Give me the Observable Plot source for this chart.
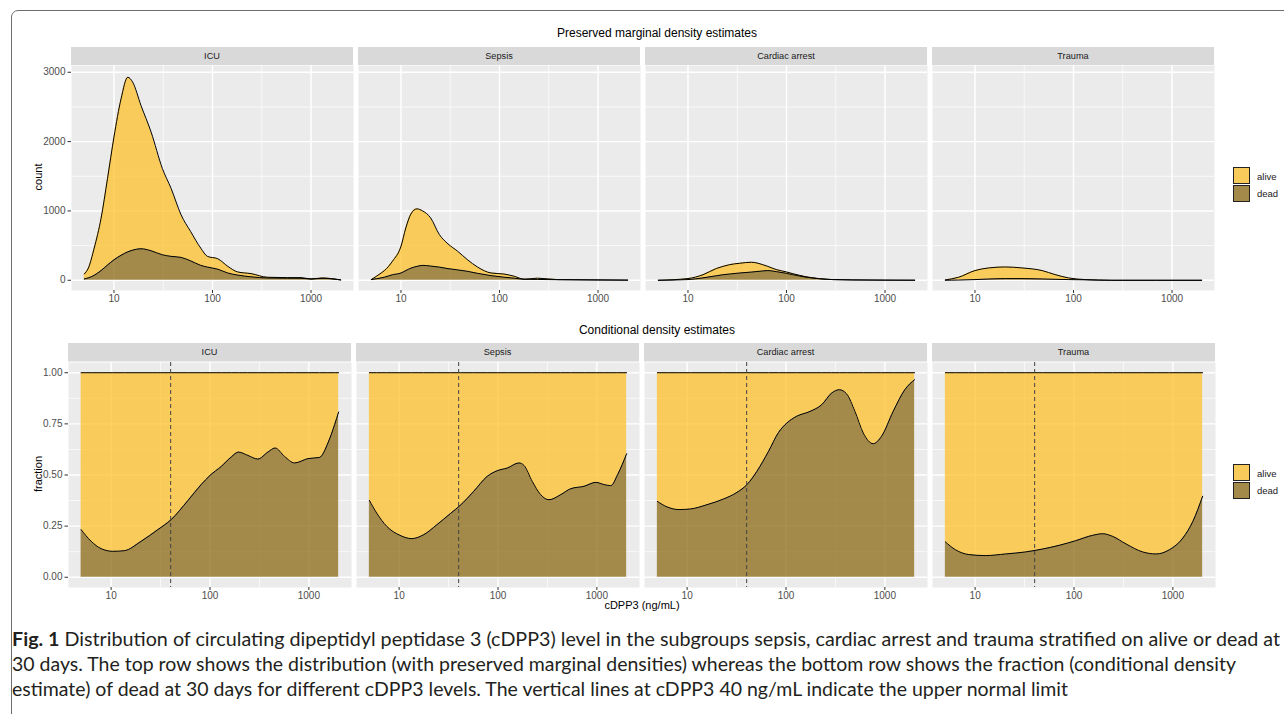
<!DOCTYPE html>
<html>
<head>
<meta charset="utf-8">
<script src="https://cdn.jsdelivr.net/npm/d3@7"></script>
<script src="https://cdn.jsdelivr.net/npm/@observablehq/plot@0.6"></script>
<style>
  html, body { margin: 0; padding: 0; background: #fff; }
  body { width: 1284px; height: 714px; overflow: hidden; position: relative; font-family: "Liberation Sans", Arial, sans-serif; }
  .abs { position: absolute; }
  #border { left: 11px; top: 10px; width: 1320px; height: 760px; border: 1.3px solid #6e6e6e; border-radius: 7px; box-sizing: border-box; }
  .title { font-size: 12px; color: #000; transform: translate(-50%, -50%); white-space: nowrap; }
  .ylab { font-size: 11px; color: #000; transform: translate(-50%, -50%) rotate(-90deg); white-space: nowrap; }
  .xlab { font-size: 11px; color: #000; transform: translate(-50%, -50%); white-space: nowrap; }
  .key { width: 17px; height: 17px; box-sizing: border-box; border: 0.8px solid #222; }
  .keylab { font-size: 9.5px; color: #1a1a1a; transform: translateY(-50%); }
  .cap { font-family: Lato, "Open Sans", sans-serif; font-size: 18.5px; color: #231f20; white-space: nowrap; display: inline-block; transform-origin: 0 50%; }
</style>
</head>
<body>
<div id="border" class="abs"></div>

<div class="abs title" style="left:657px;top:33px;">Preserved marginal density estimates</div>
<div class="abs title" style="left:657px;top:330px;">Conditional density estimates</div>
<div class="abs ylab" style="left:38px;top:177px;">count</div>
<div class="abs ylab" style="left:38px;top:474px;">fraction</div>
<div class="abs xlab" style="left:642px;top:605px;">cDPP3 (ng/mL)</div>

<div id="top" class="abs" style="left:0;top:47px;"></div>
<div id="bottom" class="abs" style="left:0;top:343px;"></div>
<div id="legends"></div>

<div class="abs" style="left:12px;top:628px;"><span class="cap" data-w="1268"><b>Fig. 1</b> Distribution of circulating dipeptidyl peptidase 3 (cDPP3) level in the subgroups sepsis, cardiac arrest and trauma stratified on alive or dead at</span></div>
<div class="abs" style="left:12px;top:653px;"><span class="cap" data-w="1224">30 days. The top row shows the distribution (with preserved marginal densities) whereas the bottom row shows the fraction (conditional density</span></div>
<div class="abs" style="left:12px;top:678px;"><span class="cap" data-w="1056">estimate) of dead at 30 days for different cDPP3 levels. The vertical lines at cDPP3 40 ng/mL indicate the upper normal limit</span></div>

<script>
// ---------- data ----------
const panels = ["ICU", "Sepsis", "Cardiac arrest", "Trauma"];
const outcomes = ["alive", "dead"];
const xTicks = [10, 100, 1000];
const countTicks = [0, 1000, 2000, 3000];
const fracTicks = [0, 0.25, 0.5, 0.75, 1];
const normalLimit = [40];

// Top row: stacked densities (count). total = alive + dead (upper curve), dead = lower curve
const icuX      = [5, 5.5, 6.3, 7.4, 8.6, 10, 11.8, 13.8, 15.5, 18.8, 23.8, 31, 38, 48, 60, 76, 89, 113, 143, 180, 246, 363, 580, 790, 1000, 1300, 2000];
const icuTotal  = [91, 177, 464, 895, 1469, 2067, 2617, 2928, 2856, 2521, 2139, 1612, 1325, 943, 703, 464, 344, 311, 201, 120, 96, 43, 38, 38, 19, 33, 5];
const icuDead   = [19, 35, 72, 140, 220, 295, 360, 410, 435, 455, 426, 368, 345, 330, 280, 215, 190, 160, 105, 75, 50, 33, 30, 29, 18, 28, 5];

const sepX      = [5, 6.3, 6.8, 8.2, 10, 11.2, 12.6, 14.5, 16.6, 20, 24.5, 30, 37.5, 47, 60, 82, 111, 141, 178, 243, 387, 1000, 2000];
const sepTotal  = [10, 105, 140, 275, 490, 755, 955, 1030, 1000, 900, 660, 525, 420, 300, 190, 105, 90, 58, 15, 30, 10, 5, 2];
const sepDead   = [10, 35, 45, 80, 105, 140, 175, 200, 215, 205, 190, 168, 150, 130, 100, 67, 45, 30, 15, 12, 8, 4, 2];

const carX      = [5, 10, 14.2, 19.4, 22.6, 26.4, 33.4, 43.9, 57.5, 64.7, 78.5, 100, 116, 135, 158, 185, 252, 295, 470, 1000, 2000];
const carTotal  = [0, 25, 80, 170, 200, 225, 245, 260, 225, 200, 155, 120, 95, 72, 50, 35, 15, 10, 5, 2, 1];
const carDead   = [0, 10, 35, 65, 80, 90, 105, 118, 135, 140, 125, 100, 80, 62, 45, 32, 15, 10, 5, 2, 1];

const trX       = [5, 6.8, 10, 13.8, 20.3, 30, 48, 65, 89, 132, 245, 2000];
const trTotal   = [5, 43, 140, 178, 192, 178, 140, 82, 34, 10, 0, 0];
const trDead    = [0, 3, 10, 18, 24, 24, 19, 14, 10, 6, 0, 0];

// Bottom row: conditional density = fraction dead
const icuFx   = [4.97, 6.28, 7.92, 10.4, 13.6, 20.1, 29.7, 40.5, 59.7, 81.4, 100, 130, 164, 194, 241, 305, 385, 456, 567, 716, 977, 1283, 1557, 1820, 2000];
const icuFrac = [0.233, 0.176, 0.14, 0.127, 0.13, 0.176, 0.233, 0.282, 0.375, 0.453, 0.498, 0.542, 0.588, 0.612, 0.596, 0.578, 0.612, 0.632, 0.591, 0.559, 0.58, 0.586, 0.656, 0.746, 0.808];

const sepFx   = [5, 5.93, 7.5, 10.2, 13.4, 17.7, 24.1, 32.9, 41.6, 56.8, 77.6, 98.2, 124, 163, 183, 222, 270, 328, 431, 544, 743, 977, 1186, 1386, 1621, 2000];
const sepFrac = [0.376, 0.314, 0.249, 0.205, 0.189, 0.208, 0.257, 0.311, 0.352, 0.42, 0.493, 0.521, 0.534, 0.559, 0.547, 0.469, 0.404, 0.379, 0.404, 0.433, 0.445, 0.464, 0.453, 0.448, 0.502, 0.604];

const carFx   = [5, 6.28, 8.24, 10.8, 15.9, 23.4, 31.9, 40.3, 50.8, 66.6, 84, 102, 128, 175, 230, 290, 346, 410, 498, 605, 763, 925, 1213, 1591, 2000];
const carFrac = [0.371, 0.344, 0.331, 0.334, 0.355, 0.383, 0.415, 0.453, 0.518, 0.616, 0.708, 0.754, 0.787, 0.811, 0.844, 0.901, 0.917, 0.897, 0.811, 0.705, 0.653, 0.689, 0.811, 0.917, 0.966];

const trFx    = [5, 6.31, 8.63, 12.7, 20.3, 32.4, 47.9, 70.6, 104, 154, 195, 246, 336, 495, 677, 925, 1262, 1595, 2000];
const trFrac  = [0.173, 0.135, 0.111, 0.106, 0.114, 0.124, 0.138, 0.156, 0.179, 0.205, 0.213, 0.2, 0.163, 0.124, 0.114, 0.135, 0.192, 0.274, 0.396];

// ---------- tables ----------
const topData = [
  ["ICU", icuX, icuTotal, icuDead], ["Sepsis", sepX, sepTotal, sepDead],
  ["Cardiac arrest", carX, carTotal, carDead], ["Trauma", trX, trTotal, trDead]
].flatMap(([panel, xs, tot, dead]) => xs.map((x, i) => ({panel, x, total: tot[i], dead: dead[i]})));

const botData = [
  ["ICU", icuFx, icuFrac], ["Sepsis", sepFx, sepFrac],
  ["Cardiac arrest", carFx, carFrac], ["Trauma", trFx, trFrac]
].flatMap(([panel, xs, fr]) => xs.map((x, i) => ({panel, x, frac: fr[i]})));

// ---------- styles ----------
const aliveFill = "#FEC02A", deadFill = "#8B6A16", fillOp = 0.75;
const aliveKey = "#F9CB5B", deadKey = "#A38A4B";
const bg = "#EBEBEB";
const lx = Math.log10(5), hx = Math.log10(2000), ex = (hx - lx) * 0.05;
const xDomain = [Math.pow(10, lx - ex), Math.pow(10, hx + ex)];
const fontStyle = {fontFamily: "'Liberation Sans', Arial, sans-serif", fontSize: "10px", background: "transparent", overflow: "visible"};
const curve = "monotone-x";

function commonMarks(yMajor, yMinor) {
  return [
    Plot.frame({fill: bg, stroke: null}),
    Plot.gridX([31.6228, 316.228], {stroke: "white", strokeOpacity: 1, strokeWidth: 0.7}),
    Plot.gridY(yMinor, {stroke: "white", strokeOpacity: 1, strokeWidth: 0.7}),
    Plot.gridX(xTicks, {stroke: "white", strokeOpacity: 1, strokeWidth: 1.4}),
    Plot.gridY(yMajor, {stroke: "white", strokeOpacity: 1, strokeWidth: 1.4}),
  ];
}
function axes(yMajor, yFmt) {
  return [
    Plot.axisX(xTicks, {tickFormat: d => String(d), tickSize: 3, tickPadding: 1.5, label: null, fill: "#4D4D4D", stroke: "#333"}),
    Plot.axisY(yMajor, {tickFormat: yFmt, tickSize: 3.5, tickPadding: 2.5, label: null, fill: "#4D4D4D", stroke: "#333"})
  ];
}

function addStrips(svgNode, h) {
  const svg = d3.select(svgNode);
  const fx = svgNode.scale("fx");
  const g = svg.append("g");
  panels.forEach(p => {
    const x0 = fx.apply(p), bw = fx.bandwidth;
    g.append("rect").attr("x", x0).attr("y", 0).attr("width", bw).attr("height", h).attr("fill", "#D9D9D9");
    g.append("text").attr("x", x0 + bw / 2).attr("y", h / 2).attr("dy", "0.35em")
      .attr("text-anchor", "middle").attr("fill", "#1A1A1A").attr("font-size", "9.2px").text(p);
  });
}

// ---------- top row ----------
const topPlot = Plot.plot({
  width: 1284, height: 263,
  marginLeft: 70, marginRight: 68, marginTop: 18, marginBottom: 20,
  style: fontStyle,
  fx: {domain: panels, paddingInner: 0.0165, paddingOuter: 0, axis: null, label: null},
  x: {type: "log", domain: xDomain},
  y: {domain: [-147.5, 3097.5]},
  marks: [
    ...commonMarks(countTicks, [500, 1500, 2500]),
    Plot.areaY(topData, {fx: "panel", x: "x", y1: d => 0, y2: "dead", fill: deadFill, fillOpacity: fillOp, curve}),
    Plot.areaY(topData, {fx: "panel", x: "x", y1: "dead", y2: "total", fill: aliveFill, fillOpacity: fillOp, curve}),
    Plot.line(topData, {fx: "panel", x: "x", y: "dead", stroke: "black", strokeWidth: 1, curve}),
    Plot.line(topData, {fx: "panel", x: "x", y: "total", stroke: "black", strokeWidth: 1, curve}),
    ...axes(countTicks, d => String(d))
  ]
});
document.getElementById("top").appendChild(topPlot);
addStrips(topPlot, 18);

// ---------- bottom row ----------
const botPlot = Plot.plot({
  width: 1284, height: 262,
  marginLeft: 67.5, marginRight: 68, marginTop: 19, marginBottom: 18,
  style: fontStyle,
  fx: {domain: panels, paddingInner: 0.0165, paddingOuter: 0, axis: null, label: null},
  x: {type: "log", domain: xDomain},
  y: {domain: [-0.05, 1.05]},
  marks: [
    ...commonMarks(fracTicks, [0.125, 0.375, 0.625, 0.875]),
    Plot.areaY(botData, {fx: "panel", x: "x", y1: d => 0, y2: "frac", fill: deadFill, fillOpacity: fillOp, curve}),
    Plot.areaY(botData, {fx: "panel", x: "x", y1: "frac", y2: d => 1, fill: aliveFill, fillOpacity: fillOp, curve}),
    Plot.line(botData, {fx: "panel", x: "x", y: d => 1, stroke: "black", strokeWidth: 1}),
    Plot.line(botData, {fx: "panel", x: "x", y: "frac", stroke: "black", strokeWidth: 1, curve}),
    Plot.ruleX(normalLimit, {stroke: "#444", strokeWidth: 1, strokeDasharray: "4,3"}),
    ...axes(fracTicks, d3.format(".2f"))
  ]
});
document.getElementById("bottom").appendChild(botPlot);
addStrips(botPlot, 18.5);

// ---------- legends ----------
const legendTops = [167, 464];
const keyFills = {alive: aliveKey, dead: deadKey};
const lg = document.getElementById("legends");
legendTops.forEach(t => {
  outcomes.forEach((o, i) => {
    const k = document.createElement("div");
    k.className = "abs key";
    k.style.left = "1233px"; k.style.top = (t + i * 17.5) + "px"; k.style.background = keyFills[o];
    lg.appendChild(k);
    const l = document.createElement("div");
    l.className = "abs keylab";
    l.style.left = "1257px"; l.style.top = (t + i * 17.5 + 8.5) + "px";
    l.textContent = o;
    lg.appendChild(l);
  });
});

// ---------- caption fit ----------
function fitCaption() {
  document.querySelectorAll(".cap").forEach(el => {
    el.style.transform = "none";
    const w = el.getBoundingClientRect().width;
    el.style.transform = `scaleX(${(+el.dataset.w) / w})`;
  });
}
fitCaption();
if (document.fonts && document.fonts.ready) document.fonts.ready.then(fitCaption);
</script>
</body>
</html>
